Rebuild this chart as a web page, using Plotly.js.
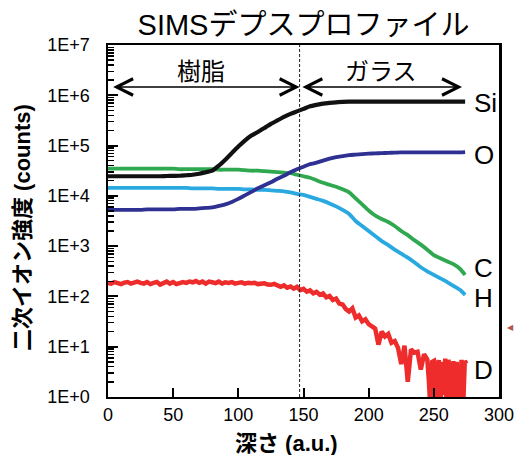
<!DOCTYPE html>
<html>
<head>
<meta charset="utf-8">
<script src="https://cdn.plot.ly/plotly-3.0.1.min.js"></script>
<style>html,body{margin:0;padding:0;background:#fff;}#chart{width:516px;height:455px;}</style>
</head>
<body>
<div id="chart"></div>
<script>
// ---- data (counts vs depth) ----
var depth = [0,5,10,15,20,25,30,35,40,45,50,55,60,65,70,75,80,85,90,95,100,105,110,115,120,125,130,135,140,145,150,155,160,165,170,175,180,185,190,195,200,205,210,215,220,225,230,235,240,245,250,255,260,265,270,274];

var siCounts = [24550,24550,24550,24550,24550,24550,24550,24550,24550,24800,25000,25120,25700,26300,27540,29510,31620,39810,52480,70790,95500,125900,158500,186200,223900,269200,316200,371500,426600,478600,537000,602600,645700,683900,707900,724400,741300,749900,750500,749000,751000,750000,749500,750800,749800,750200,749000,750500,750000,749600,750400,749900,750300,749700,750000,750000];

var oCounts = [5250,5250,5250,5250,5250,5250,5370,5370,5370,5370,5370,5495,5495,5495,5623,5754,5888,6310,6761,7586,8710,10230,12020,14130,16220,18620,21880,25120,29510,33880,38020,42660,45710,50120,54950,58880,61660,64570,66070,67610,69180,69980,70790,71610,72440,73280,73280,73280,73280,73280,73280,73280,73280,73280,73280,74130];

var cCounts = [34670,34670,34670,34670,34670,34670,34670,34670,34670,34670,34670,33880,33880,33880,33880,33880,33880,33110,33110,33110,33110,32360,31620,31620,30900,30200,29510,28840,28180,26300,24550,22910,20420,18200,16600,15140,13490,11750,8913,6761,5129,4074,3467,3020,2512,1995,1660,1318,1072,851,661,575,501,437,355,269];

var hCounts = [14450,14450,14450,14450,14450,14450,14450,14450,14450,14450,14450,14450,14450,14130,14130,14130,14130,13800,13800,13800,13800,13490,13490,13180,13180,12880,12590,12300,11750,10960,10470,9550,8710,7943,7079,6166,5248,4365,3162,2512,1995,1585,1259,1047,851,708,589,479,380,316,269,229,195,162,135,107];

var depthD = [0,2.5,5,7.5,10,12.5,15,17.5,20,22.5,25,27.5,30,32.5,35,37.5,40,42.5,45,47.5,50,52.5,55,57.5,60,62.5,65,67.5,70,72.5,75,77.5,80,82.5,85,87.5,90,92.5,95,97.5,100,102.5,105,107.5,110,112.5,115,117.5,120,122.5,125,127.5,130,132.5,135,137.5,140,142.5,145,147.5,150,152.5,155,157.5,160,162.5,165,167.5,170,172.5,175,177.5,180,182.5,185,187.5,190,192.5,195,197.5,200,202.5,205,207.5,210,212.5,215,217.5,220,222.5,225,227.5,230,232.5,235,237.5,240,242.5,245,246.25,247.5,248.75,250,251.25,252.5,253.75,255,256.25,257.5,258.75,260,261.25,262.5,263.75,265,266.25,267.5,268.75,270,271.25,272.5,273.75,275];

var dCounts = [186,180,193,186,176,188,193,180,186,197,186,180,193,176,186,193,172,186,197,180,193,176,186,193,186,197,191,202,186,197,180,197,191,184,197,180,191,186,193,180,186,191,180,186,182,186,176,182,182,172,170,178,162,156,166,149,158,143,155,133,141,124,132,115,123,108,115,96,102,85,91,72,69,56,50,58,38,42,32,35,28,25,23,11,20,16,18,12,13,9.5,4.5,10.5,2.0,8.9,7.6,7.9,3.5,7.1,5.6,2.0,0.5,5.0,5.2,0.63,4.0,5.4,0.5,5.0,1.1,5.8,0.5,5.5,2.5,0.5,5.2,0.63,5.0,1.6,0.5,5.5,0.63,5.2,4.6];

var boundaryDepth = 147;   // resin / glass interface
var resinStart = 2.8;
var glassEnd = 271.6;

var yTickVals = [1,10,100,1000,10000,100000,1000000,10000000];
var yTickText = ['1E+0','1E+1','1E+2','1E+3','1E+4','1E+5','1E+6','1E+7'];
var xTickVals = [0,50,100,150,200,250,300];

var minorVals = [];
for (var p = 0; p < 7; p++) { for (var m = 2; m <= 9; m++) { minorVals.push(m * Math.pow(10, p)); } }

var FONT = "'Liberation Sans', Arial, 'Noto Sans CJK JP', sans-serif";

function tr(x, y, color, width, shape) {
  return {x: x, y: y, type: 'scatter', mode: 'lines', hoverinfo: 'skip',
    line: {color: color, width: width, shape: shape || 'linear', smoothing: 0.6}, showlegend: false};
}

var data = [
  tr(depth, hCounts, '#29a9e0', 3.8, 'spline'),
  tr(depth, cCounts, '#2fa84f', 3.8, 'spline'),
  tr(depthD, dCounts, '#ee2c2c', 4.5),
  tr(depth, oCounts, '#2e3192', 3.8, 'spline'),
  tr(depth, siCounts, '#111111', 4.2, 'spline'),
  // invisible carrier so the minor-tick axis is drawn
  {x: [0], y: [1], yaxis: 'y2', type: 'scatter', mode: 'markers', marker: {opacity: 0}, hoverinfo: 'skip', showlegend: false}
];

function lbl(text, px, py, size, extra) {
  var a = {text: text, xref: 'paper', yref: 'paper', x: (px - 108) / 391, y: (397 - py) / 352,
    showarrow: false, font: {family: FONT, size: size, color: '#000'}, xanchor: 'center', yanchor: 'middle'};
  if (extra) for (var k in extra) a[k] = extra[k];
  return a;
}

var arrowY = (397 - 87) / 352;
function dblArrow(x0, x1) {
  return {text: '', xref: 'x', yref: 'paper', x: x1, y: arrowY, axref: 'x', ayref: 'pixel', ax: x0, ay: 0,
    showarrow: true, arrowside: 'end+start', arrowhead: 5, startarrowhead: 5,
    arrowsize: 2.3, startarrowsize: 2.3, arrowwidth: 1.4, arrowcolor: '#000', standoff: 0, startstandoff: 0};
}

var layout = {
  width: 516, height: 455,
  margin: {l: 108, r: 17, t: 45, b: 58},
  paper_bgcolor: '#fff', plot_bgcolor: '#fff',
  font: {family: FONT, color: '#000', size: 18},
  title: {text: 'SIMSデプスプロファイル', font: {family: FONT, size: 29, color: '#000'},
    x: 0.5, xref: 'paper', xanchor: 'center', y: 1 - 25 / 455, yref: 'container', yanchor: 'middle'},
  xaxis: {range: [0, 300], tickmode: 'array', tickvals: xTickVals, ticks: 'inside', ticklen: 9,
    tickwidth: 2, tickcolor: '#000', showline: true, linewidth: 2, linecolor: '#000', mirror: true,
    showgrid: false, zeroline: false},
  yaxis: {type: 'log', range: [0, 7], tickmode: 'array', tickvals: yTickVals, ticktext: yTickText,
    ticks: 'inside', ticklen: 10, tickwidth: 2, tickcolor: '#000', showline: true, linewidth: 2.5,
    linecolor: '#000', mirror: true, showgrid: false, zeroline: false, ticklabelstandoff: 12},
  yaxis2: {type: 'log', range: [0, 7], overlaying: 'y', side: 'left', anchor: 'x', tickmode: 'array', tickvals: minorVals,
    ticks: 'inside', ticklen: 6, tickwidth: 1.5, tickcolor: '#000', showticklabels: false, showline: false,
    showgrid: false, zeroline: false},
  shapes: [{type: 'line', xref: 'x', yref: 'paper', x0: boundaryDepth, x1: boundaryDepth, y0: 0, y1: 1,
    line: {color: '#222', width: 1, dash: '3px,2px'}}],
  annotations: [
    lbl('<b>二次イオン強度 (counts)</b>', 22, 228, 22, {textangle: -90}),
    lbl('<b>深さ (a.u.)</b>', 286, 443, 22),
    lbl('樹脂', 201, 72, 24),
    lbl('ガラス', 381, 72, 24),
    dblArrow(resinStart, boundaryDepth),
    dblArrow(boundaryDepth + 1, glassEnd),
    lbl('Si', 472, 103, 26, {xanchor: 'left'}),
    lbl('O', 472, 155, 26, {xanchor: 'left'}),
    lbl('C', 472, 268, 26, {xanchor: 'left'}),
    lbl('H', 472, 298, 26, {xanchor: 'left'}),
    lbl('D', 472, 370, 26, {xanchor: 'left'}),
    lbl('◀', 510, 327, 8, {font: {family: 'DejaVu Sans', size: 8, color: '#b5544f'}})
  ]
};

Plotly.newPlot('chart', data, layout, {staticPlot: true, displayModeBar: false});
</script>
</body>
</html>
